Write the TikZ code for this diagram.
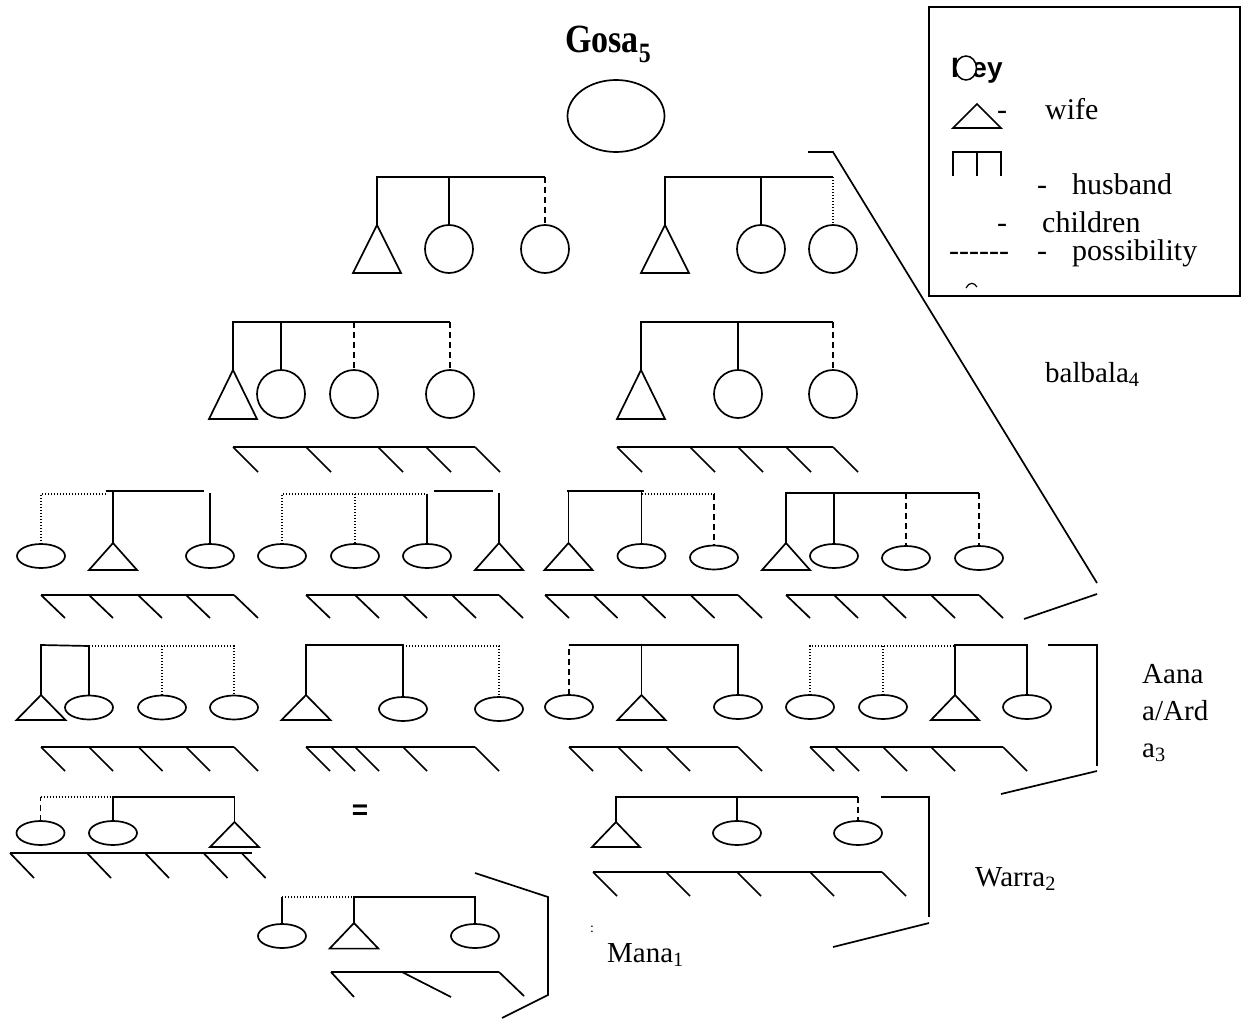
\documentclass[tikz,border=0pt]{standalone}
\usepackage{fontspec}
\usepackage{graphicx}
\setmainfont{Liberation Serif}
\newfontfamily\keysans{Liberation Sans}
\usetikzlibrary{shapes.geometric}
\newcommand\labfont{\fontsize{29}{35}\selectfont}
\newcommand\keyfont{\fontsize{30}{36}\selectfont}
\newcommand\kinTri[5]{\coordinate (#1) at (#2,#3); \draw[kin] (#1) -- ++(-#4,#5) -- ++({2*#4},0) -- cycle;}
\newcommand\hatchbar[6]{\draw[kin] (#2,#1) -- (#3,#1); \foreach \hx in {#4} \draw[kin] (\hx,#1) -- ++(#5,#6);}
\tikzset{
  kin/.style={line width=1.7pt},
  dashl/.style={line width=1.7pt, dash pattern=on 6pt off 4pt},
  dotl/.style={line width=1.3pt, dash pattern=on 1.3pt off 1.7pt},
  circ/.style={draw, circle, line width=1.7pt, minimum size=48pt, inner sep=0pt, outer sep=0pt},
  ell/.style={draw, ellipse, line width=1.7pt, minimum width=48pt, minimum height=24pt, inner sep=0pt, outer sep=0pt},
  lbl/.style={anchor=base west, inner sep=0pt, font=\labfont},
  keytxt/.style={anchor=base west, inner sep=0pt, font=\keyfont},
}
\begin{document}
\begin{tikzpicture}[x=1pt,y=-1pt]
\fill[white] (0,0) rectangle (1246,1019);
\useasboundingbox (0,0) rectangle (1246,1019);

% ---------- title and apex ----------
\node[anchor=base west, inner sep=0pt, font=\fontsize{40}{46}\selectfont\bfseries] (title) at (565,53) {\scalebox{0.85}[1]{Gosa\textsubscript{5}}};
\node[ell, minimum width=97pt, minimum height=72pt] (gosa) at (616,116) {};

% ---------- key ----------
\draw[kin] (929,7) rectangle (1240,296);
\node[anchor=base west, inner sep=0pt, font=\keysans\bfseries\fontsize{28}{32}\selectfont] (keyt) at (951,78) {Key};
\node[draw, ellipse, fill=white, line width=1.5pt, minimum width=21pt, minimum height=24pt, inner sep=0pt] (keyc) at (966,68) {};
\kinTri{kt}{977}{104}{24}{24}
\node[keytxt] (kd1) at (997,120) {-};
\node[keytxt] (kwife) at (1045,120) {wife};
\draw[kin] (953,176) -- (953,152) -- (1001,152) -- (1001,176);
\draw[kin] (977,152) -- (977,176);
\node[keytxt] (kd2) at (1037,194) {-};
\node[keytxt] (khus) at (1072,194) {husband};
\node[keytxt] (kd3) at (997,232) {-};
\node[keytxt] (kchi) at (1042,232) {children};
\node[keytxt] (kdd) at (949,260) {-{}-{}-{}-{}-{}-};
\node[keytxt] (kd4) at (1037,260) {-};
\node[keytxt] (kpos) at (1072,260) {possibility};
\draw[line width=1.2pt] (966,288) .. controls (969,282) and (974,282) .. (977,287);

% ---------- row 1 ----------
\kinTri{t1a}{377}{225}{24}{48}
\node[circ] (c1a) at (449,249) {};
\node[circ] (c1b) at (545,249) {};
\draw[kin] (t1a) -- (377,177) -- (545,177);
\draw[kin] (449,177) -- (c1a.north);
\draw[dashl] (545,177) -- (c1b.north);

\kinTri{t1b}{665}{225}{24}{48}
\node[circ] (c1c) at (761,249) {};
\node[circ] (c1d) at (833,249) {};
\draw[kin] (t1b) -- (665,177) -- (833,177);
\draw[kin] (761,177) -- (c1c.north);
\draw[dotl] (833,177) -- (c1d.north);

\draw[kin] (808,152) -- (833,152) -- (1097,583);
\draw[kin] (1024,619) -- (1097,594);
\node[lbl] (balbala) at (1045,382) {balbala\textsubscript{4}};

% ---------- row 2 ----------
\kinTri{t2a}{233}{370}{24}{49}
\node[circ] (c2a) at (281,394) {};
\node[circ] (c2b) at (354,394) {};
\node[circ] (c2c) at (450,394) {};
\draw[kin] (t2a) -- (233,322) -- (450,322);
\draw[kin] (281,322) -- (c2a.north);
\draw[dashl] (354,322) -- (c2b.north);
\draw[dashl] (450,322) -- (c2c.north);
\hatchbar{447}{233}{475}{233,306,378,426,475}{25}{25}

\kinTri{t2b}{641}{370}{24}{49}
\node[circ] (c2d) at (738,394) {};
\node[circ] (c2e) at (833,394) {};
\draw[kin] (t2b) -- (641,322) -- (833,322);
\draw[kin] (738,322) -- (c2d.north);
\draw[dashl] (833,322) -- (c2e.north);
\hatchbar{447}{617}{833}{617,690,738,786,833}{25}{25}

% ---------- row 3 ----------
% A
\node[ell] (e3a) at (41,556) {};
\kinTri{t3a}{113}{543}{24}{27}
\node[ell] (e3b) at (210,556) {};
\draw[dotl] (e3a.north) -- (41,494) -- (106,494);
\draw[kin] (106,491) -- (204,491);
\draw[kin] (113,491) -- (t3a);
\draw[kin] (210,493) -- (e3b.north);
\hatchbar{595}{41}{234}{41,89,138,186,234}{24}{23}
% B
\node[ell] (e3c) at (282,556) {};
\node[ell] (e3d) at (355,556) {};
\node[ell] (e3e) at (427,556) {};
\kinTri{t3b}{499}{543}{24}{27}
\draw[dotl] (e3c.north) -- (282,494) -- (427,494);
\draw[dotl] (355,494) -- (e3d.north);
\draw[kin] (427,494) -- (e3e.north);
\draw[kin] (434,491) -- (493,491);
\draw[kin] (499,493) -- (t3b);
\hatchbar{595}{306}{499}{306,355,403,452,499}{24}{23}
% C
\kinTri{t3c}{568.5}{543}{24}{27}
\node[ell] (e3f) at (641.5,556) {};
\node[ell] (e3g) at (714,557.5) {};
\draw[kin] (t3c) -- (568.5,491);
\draw[kin] (566.5,491) -- (644,491);
\draw[kin] (641.5,491) -- (e3f.north);
\draw[dotl] (641.5,494) -- (714,494);
\draw[dashl] (714,494) -- (e3g.north);
\hatchbar{595}{545}{738}{545,593.5,641.5,690.5,738}{24}{23}
% D
\kinTri{t3d}{786}{543}{24}{27}
\node[ell] (e3h) at (834,556) {};
\node[ell] (e3i) at (906,558) {};
\node[ell] (e3j) at (979,558) {};
\draw[kin] (t3d) -- (786,493) -- (979,493);
\draw[kin] (834,493) -- (e3h.north);
\draw[dashl] (906,493) -- (e3i.north);
\draw[dashl] (979,493) -- (e3j.north);
\hatchbar{595}{786}{979}{786,834,882,931,979}{24}{23}

% ---------- row 4 ----------
% E
\kinTri{t4a}{41}{695}{24.5}{25}
\node[ell] (e4a) at (89,707.5) {};
\node[ell] (e4b) at (162,707.5) {};
\node[ell] (e4bb) at (234,707.5) {};
\draw[kin] (t4a) -- (41,645) -- (89,646) -- (e4a.north);
\draw[dotl] (89,646) -- (234,646) -- (e4bb.north);
\draw[dotl] (162,646) -- (e4b.north);
\hatchbar{747}{41}{234}{41,89,138.5,186,234}{24}{24}
% F
\kinTri{t4b}{306}{695}{24.5}{25}
\node[ell] (e4c) at (403,709) {};
\node[ell] (e4d) at (499,709) {};
\draw[kin] (t4b) -- (306,645) -- (403,645) -- (e4c.north);
\draw[dotl] (403,646) -- (499,646) -- (e4d.north);
\hatchbar{747}{306}{475}{306,331,355,403,475}{24}{24}
% G
\node[ell] (e4e) at (569,707) {};
\kinTri{t4c}{641.5}{695}{24}{25}
\node[ell] (e4f) at (738,707) {};
\draw[dashl] (e4e.north) -- (569,645);
\draw[kin] (569,645) -- (738,645) -- (e4f.north);
\draw[kin] (641.5,645) -- (t4c);
\hatchbar{747}{569}{738}{569,618,666,738}{24}{24}
% H
\node[ell] (e4g) at (810,707) {};
\node[ell] (e4h) at (883,707) {};
\kinTri{t4d}{955}{695}{24}{25}
\node[ell] (e4i) at (1027,707) {};
\draw[dotl] (e4g.north) -- (810,646) -- (955,646);
\draw[dotl] (883,646) -- (e4h.north);
\draw[kin] (t4d) -- (955,645) -- (1027,645) -- (e4i.north);
\hatchbar{747}{810}{1003}{810,835,883,931,1003}{24}{24}

\draw[kin] (1048,645) -- (1097,645) -- (1097,766);
\draw[kin] (1001,794) -- (1097,771);
\node[lbl] (aana1) at (1142,683) {Aana};
\node[lbl] (aana2) at (1142,720) {a/Ard};
\node[lbl] (aana3) at (1142,757) {a\textsubscript{3}};

% ---------- row 5 ----------
% I
\node[ell] (e5a) at (40.5,833) {};
\node[ell] (e5b) at (113,833) {};
\kinTri{t5a}{234.5}{822}{24.4}{25}
\draw[dashl] (e5a.north) -- (40.5,797);
\draw[dotl] (40.5,797) -- (113,797);
\draw[kin] (e5b.north) -- (113,797) -- (234.5,797) -- (t5a);
\hatchbar{853}{10}{252}{10,87,145,203.5,241.6}{24}{25}

\node[inner sep=0pt, font=\keysans\bfseries\fontsize{28}{32}\selectfont] (eq) at (360,812) {=};

% K
\kinTri{t5b}{616}{822}{24}{25}
\node[ell] (e5c) at (737,833) {};
\node[ell] (e5d) at (858,833) {};
\draw[kin] (t5b) -- (616,797) -- (858,797);
\draw[kin] (737,797) -- (e5c.north);
\draw[dashl] (858,797) -- (e5d.north);
\hatchbar{872}{593}{882}{593,666,737,810,882}{24}{24}
\draw[kin] (881,797) -- (929,797) -- (929,917);
\draw[kin] (833,947) -- (929,923);
\node[lbl] (warra) at (975,886) {Warra\textsubscript{2}};
\node[inner sep=0pt, font=\fontsize{14}{16}\selectfont] (colon) at (592,929) {:};

% J
\node[ell] (e5e) at (282,936) {};
\kinTri{t5c}{354}{923}{24.4}{25.6}
\node[ell] (e5f) at (475,936) {};
\draw[kin] (e5e.north) -- (282,897);
\draw[dotl] (282,897) -- (354,897);
\draw[kin] (t5c) -- (354,897) -- (475,897) -- (e5f.north);
\draw[kin] (331,972) -- (499,972);
\draw[kin] (331,972) -- (354,997);
\draw[kin] (402,972) -- (451,997);
\draw[kin] (499,972) -- (524,996);
\draw[kin] (475,873) -- (548,897) -- (548,995) -- (502,1018);
\node[lbl] (mana) at (607,962) {Mana\textsubscript{1}};
\end{tikzpicture}
\end{document}
